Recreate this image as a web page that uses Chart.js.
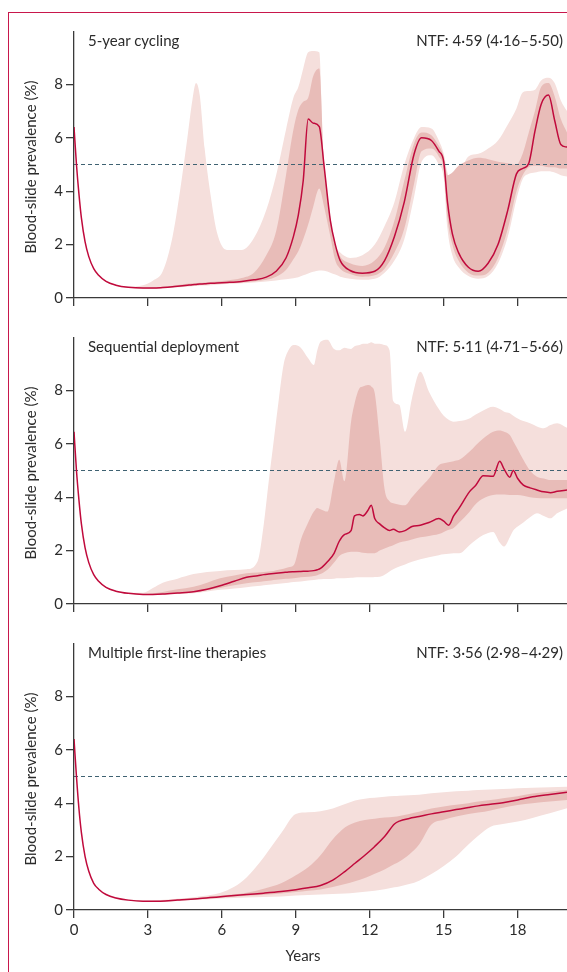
<!DOCTYPE html>
<html><head><meta charset="utf-8">
<script src="https://cdn.jsdelivr.net/npm/chart.js@4.4.1/dist/chart.umd.min.js"></script>
<style>
html,body{margin:0;padding:0;background:#fff;}
body{width:567px;height:972px;position:relative;overflow:hidden;font-family:Lato,"Open Sans",sans-serif;color:#2b2b2b;}
#frame{position:absolute;left:8px;top:12px;width:559px;height:960px;border-top:1.5px solid #c8174c;border-left:1.5px solid #c8174c;box-sizing:border-box;}
.cv{position:absolute;left:0;}
.ttl{position:absolute;font-size:15px;line-height:15px;white-space:nowrap;color:#2b2b2b;}
.ntf{position:absolute;font-size:15px;line-height:15px;white-space:nowrap;right:4px;color:#2b2b2b;}
.ylab{position:absolute;font-size:15px;line-height:15px;white-space:nowrap;transform:translate(-50%,-50%) rotate(-90deg);left:30px;color:#2b2b2b;}
#years{position:absolute;font-size:15px;line-height:15px;left:303px;top:948px;transform:translateX(-50%);color:#2b2b2b;}
</style></head>
<body>
<div id="frame"></div>
<canvas id="c1" class="cv" width="567" height="277" style="top:31px"></canvas>
<canvas id="c2" class="cv" width="567" height="277" style="top:337px"></canvas>
<canvas id="c3" class="cv" width="567" height="317" style="top:643px"></canvas>
<div class="ttl" style="left:88px;top:33px">5-year cycling</div>
<div class="ntf" style="top:33px">NTF: 4·59 (4·16–5·50)</div>
<div class="ttl" style="left:88px;top:339px">Sequential deployment</div>
<div class="ntf" style="top:339px">NTF: 5·11 (4·71–5·66)</div>
<div class="ttl" style="left:88px;top:645px">Multiple first-line therapies</div>
<div class="ntf" style="top:645px">NTF: 3·56 (2·98–4·29)</div>
<div class="ylab" style="top:167px">Blood-slide prevalence (%)</div>
<div class="ylab" style="top:473px">Blood-slide prevalence (%)</div>
<div class="ylab" style="top:779px">Blood-slide prevalence (%)</div>
<div id="years">Years</div>
<script>
// ---- shared axis definitions ----
const xTicks = [0, 3, 6, 9, 12, 15, 18];
const yTicks = [0, 2, 4, 6, 8];
const threshold = 5;

// ---- Panel 1: 5-year cycling ----
const years1 = [0,0.1,0.2,0.3,0.45,0.6,0.8,1.0,1.3,1.7,2.2,2.8,3.2,3.6,4.0,4.3,4.6,4.8,4.95,5.1,5.3,5.55,5.8,6.2,6.8,7.3,7.8,8.2,8.6,8.9,9.1,9.3,9.5,9.7,9.95,10.15,10.4,10.6,10.8,11.2,11.7,12.2,12.6,13.0,13.4,13.8,14.1,14.5,14.8,15.0,15.15,15.35,15.6,16.0,16.4,16.8,17.2,17.6,17.95,18.2,18.45,18.7,18.95,19.25,19.5,19.75,20];
const median1 = [6.4,5.0,3.9,3.0,2.1,1.55,1.1,0.85,0.62,0.48,0.4,0.37,0.37,0.39,0.42,0.45,0.48,0.5,0.51,0.52,0.53,0.55,0.56,0.58,0.62,0.68,0.78,1.0,1.5,2.3,3.1,4.4,6.7,6.55,6.42,4.9,2.9,2.0,1.4,1.03,0.93,1.0,1.4,2.3,3.6,5.4,6.0,5.9,5.5,5.1,3.6,2.4,1.7,1.15,1.0,1.3,2.0,3.3,4.65,4.85,5.05,6.25,7.25,7.6,6.65,5.75,5.65];
const outerHi1 = [6.4,5.0,3.9,3.0,2.1,1.55,1.1,0.86,0.64,0.5,0.42,0.48,0.65,1.0,2.3,4.0,6.0,7.4,8.05,7.6,5.6,3.8,2.45,1.8,1.8,2.25,3.3,4.6,6.3,7.5,7.9,8.6,9.2,9.25,9.2,4.2,2.5,1.95,1.7,1.5,1.6,2.0,2.7,3.6,5.0,6.0,6.4,6.35,5.9,5.4,4.7,4.35,4.6,5.3,5.4,5.6,5.9,6.5,7.1,7.7,7.75,7.8,8.15,8.25,8.05,7.4,7.0];
const innerHi1 = [6.4,5.0,3.9,3.0,2.1,1.55,1.1,0.85,0.62,0.48,0.4,0.38,0.39,0.42,0.46,0.5,0.53,0.55,0.56,0.57,0.58,0.6,0.62,0.66,0.75,0.95,1.6,2.5,4.6,6.3,7.05,7.35,7.5,8.3,8.6,5.1,3.0,2.0,1.55,1.3,1.2,1.4,1.9,2.9,4.4,5.8,6.2,6.1,5.7,5.3,4.6,4.7,4.95,5.15,5.25,5.2,5.1,5.05,5.0,5.4,6.2,7.0,7.9,8.05,7.55,6.7,6.2];
const innerLo1 = [6.4,5.0,3.9,3.0,2.1,1.55,1.1,0.85,0.62,0.47,0.39,0.36,0.36,0.37,0.4,0.42,0.45,0.47,0.48,0.49,0.5,0.52,0.53,0.55,0.58,0.62,0.68,0.8,1.05,1.45,1.75,2.2,2.75,3.4,4.1,3.4,2.3,1.4,1.1,0.9,0.8,0.85,1.1,1.7,2.6,4.3,5.5,5.6,5.3,4.8,3.0,2.0,1.4,0.95,0.84,0.95,1.5,2.6,4.0,4.6,4.9,4.95,4.95,4.9,4.9,4.85,4.85];
const outerLo1 = [6.4,5.0,3.9,3.0,2.1,1.55,1.1,0.84,0.6,0.46,0.38,0.35,0.35,0.36,0.38,0.4,0.42,0.44,0.45,0.46,0.47,0.48,0.5,0.52,0.55,0.58,0.62,0.66,0.7,0.74,0.78,0.85,0.92,0.98,1.03,1.02,0.95,0.88,0.8,0.72,0.68,0.72,0.95,1.4,2.2,3.8,5.1,5.35,5.0,4.5,2.6,1.6,1.15,0.82,0.72,0.82,1.3,2.3,3.7,4.45,4.65,4.7,4.75,4.75,4.7,4.6,4.55];

// ---- Panel 2: Sequential deployment ----
const years2 = [0,0.1,0.2,0.3,0.45,0.6,0.8,1.0,1.3,1.7,2.2,2.8,3.2,3.6,4.2,4.85,5.4,5.93,6.5,7.0,7.45,7.7,7.9,8.1,8.3,8.5,8.7,8.92,9.2,9.5,9.73,9.87,10.0,10.28,10.55,10.76,10.97,11.24,11.38,11.58,11.72,11.92,12.06,12.2,12.4,12.6,12.8,12.95,13.2,13.43,13.71,14.05,14.4,14.8,15.0,15.2,15.4,15.63,16.04,16.3,16.6,17.0,17.27,17.45,17.68,17.82,18.0,18.23,18.5,18.78,19.06,19.33,19.6,20];
const median2 = [6.45,5.0,3.9,3.0,2.1,1.55,1.1,0.85,0.62,0.48,0.4,0.36,0.36,0.37,0.41,0.46,0.55,0.68,0.85,1.0,1.06,1.1,1.12,1.14,1.16,1.18,1.2,1.21,1.22,1.23,1.25,1.28,1.33,1.58,1.9,2.35,2.6,2.75,3.3,3.35,3.3,3.5,3.7,3.2,3.0,2.85,2.75,2.8,2.7,2.75,2.9,2.95,3.05,3.2,3.1,2.95,3.3,3.6,4.2,4.45,4.8,4.78,5.35,5.05,4.75,5.0,4.7,4.45,4.35,4.27,4.2,4.17,4.22,4.27];
const outerHi2 = [6.45,5.0,3.9,3.0,2.1,1.55,1.1,0.86,0.64,0.5,0.42,0.42,0.6,0.8,0.95,1.12,1.2,1.24,1.27,1.3,1.6,3.0,4.6,6.1,7.6,8.95,9.5,9.7,9.6,9.2,8.95,9.5,9.82,9.9,9.55,9.5,9.6,9.55,9.65,9.7,9.75,9.75,9.8,9.75,9.75,9.7,9.5,7.6,7.45,6.45,7.7,8.7,7.95,7.3,7.05,6.9,6.83,6.85,6.95,7.1,7.25,7.39,7.3,7.2,7.14,7.05,6.95,6.85,6.77,6.65,6.58,6.7,6.77,6.6];
const innerHi2 = [6.45,5.0,3.9,3.0,2.1,1.55,1.1,0.85,0.62,0.48,0.4,0.38,0.4,0.45,0.55,0.65,0.8,0.96,1.07,1.15,1.18,1.2,1.22,1.24,1.28,1.32,1.38,1.46,2.4,3.05,3.46,3.6,3.55,3.46,4.6,5.4,4.6,6.83,7.5,8.08,8.15,8.2,8.15,7.9,6.2,4.3,3.85,3.77,3.72,3.7,4.0,4.35,4.7,5.2,5.27,5.31,5.35,5.4,5.7,5.95,6.2,6.45,6.5,6.45,6.33,6.1,5.8,5.4,5.0,4.77,4.7,4.64,4.64,4.64];
const innerLo2 = [6.45,5.0,3.9,3.0,2.1,1.55,1.1,0.85,0.62,0.47,0.39,0.35,0.35,0.36,0.39,0.45,0.52,0.6,0.7,0.78,0.82,0.85,0.87,0.9,0.92,0.94,0.95,0.96,1.0,1.02,1.05,1.08,1.12,1.28,1.55,1.8,1.9,1.96,1.96,1.95,1.92,1.9,1.9,1.9,2.0,2.08,2.15,2.2,2.3,2.35,2.42,2.5,2.55,2.62,2.7,2.78,2.85,3.05,3.45,3.75,3.95,4.08,4.1,4.1,4.08,4.08,4.08,4.05,4.0,3.97,3.96,3.96,3.96,3.96];
const outerLo2 = [6.45,5.0,3.9,3.0,2.1,1.55,1.1,0.84,0.6,0.46,0.38,0.34,0.34,0.35,0.37,0.4,0.47,0.53,0.58,0.63,0.67,0.7,0.72,0.74,0.76,0.78,0.8,0.82,0.84,0.88,0.9,0.92,0.93,0.94,0.95,0.96,0.96,0.98,0.99,1.0,1.0,1.0,1.0,1.01,1.02,1.1,1.22,1.3,1.4,1.48,1.58,1.68,1.75,1.83,1.86,1.88,1.9,1.9,2.2,2.4,2.58,2.7,2.3,2.15,2.5,2.75,2.9,3.05,3.25,3.4,3.3,3.21,3.4,3.58];

// ---- Panel 3: Multiple first-line therapies ----
const years3 = [0,0.1,0.2,0.3,0.45,0.6,0.8,1.0,1.3,1.7,2.2,2.8,3.5,4.2,5.0,5.95,6.5,7.0,7.7,8.4,9.0,9.5,10.0,10.5,11.0,11.4,11.8,12.2,12.6,13.0,13.2,13.6,14.0,14.5,15.0,15.5,16.0,16.4,16.9,17.4,18.0,18.6,19.3,20];
const median3 = [6.4,5.0,3.8,2.9,2.0,1.45,1.0,0.78,0.58,0.45,0.37,0.33,0.33,0.37,0.42,0.5,0.54,0.58,0.63,0.69,0.76,0.83,0.92,1.12,1.45,1.75,2.05,2.38,2.75,3.22,3.33,3.43,3.5,3.6,3.68,3.76,3.84,3.9,3.96,4.02,4.12,4.24,4.33,4.41];
const outerHi3 = [6.4,5.0,3.8,2.9,2.0,1.45,1.0,0.79,0.6,0.47,0.39,0.36,0.37,0.42,0.5,0.65,0.87,1.22,1.98,2.87,3.6,3.66,3.7,3.8,3.97,4.1,4.17,4.2,4.24,4.27,4.28,4.3,4.32,4.37,4.41,4.45,4.47,4.49,4.51,4.53,4.56,4.58,4.6,4.62];
const innerHi3 = [6.4,5.0,3.8,2.9,2.0,1.45,1.0,0.78,0.58,0.45,0.37,0.34,0.35,0.39,0.45,0.54,0.59,0.65,0.8,1.0,1.3,1.6,2.05,2.65,3.1,3.28,3.37,3.42,3.46,3.49,3.52,3.6,3.68,3.8,3.88,3.94,4.0,4.06,4.12,4.19,4.26,4.36,4.43,4.49];
const innerLo3 = [6.4,5.0,3.8,2.9,2.0,1.45,1.0,0.78,0.58,0.45,0.37,0.32,0.32,0.35,0.4,0.47,0.5,0.53,0.57,0.62,0.67,0.72,0.77,0.86,0.97,1.08,1.2,1.36,1.52,1.72,1.82,2.08,2.45,3.2,3.38,3.5,3.6,3.65,3.73,3.83,3.93,4.0,4.06,4.12];
const outerLo3 = [6.4,5.0,3.8,2.9,2.0,1.45,1.0,0.77,0.57,0.44,0.36,0.31,0.31,0.34,0.38,0.43,0.45,0.47,0.49,0.51,0.54,0.56,0.58,0.6,0.62,0.65,0.68,0.72,0.78,0.85,0.88,0.97,1.1,1.35,1.65,2.0,2.45,2.78,3.12,3.22,3.31,3.45,3.62,3.81];

// ---- styling ----
const LIGHT = '#f5dfdc';
const DARK = '#e8bcb8';
const LINE = '#c00a3c';
const DASH = '#3f6272';
const AXIS = '#3a3a3a';
const TXT = '#2b2b2b';

function pts(xs, ys) { return xs.map((x, i) => ({ x: x, y: ys[i] })); }

function makeChart(id, xs, med, oh, ih, il, ol, showLabels) {
  const band = (data, color, fill, order) => ({
    data: pts(xs, data), borderWidth: 0, pointRadius: 0, backgroundColor: color,
    fill: fill, order: order, cubicInterpolationMode: 'monotone'
  });
  new Chart(document.getElementById(id), {
    type: 'line',
    data: {
      datasets: [
        band(oh, LIGHT, '+1', 5),
        band(ol, LIGHT, false, 5),
        band(ih, DARK, '+1', 3),
        band(il, DARK, false, 3),
        { data: [{ x: 0, y: threshold }, { x: 20, y: threshold }], borderColor: DASH, borderWidth: 1.1,
          borderDash: [4, 3], pointRadius: 0, fill: false, order: 1 },
        { data: pts(xs, med), borderColor: LINE, borderWidth: 1.5, pointRadius: 0, fill: false,
          order: 0, cubicInterpolationMode: 'monotone' }
      ]
    },
    options: {
      responsive: false, animation: false, devicePixelRatio: 1,
      layout: { padding: { left: 0, right: 0, top: 0, bottom: 0 } },
      plugins: { legend: { display: false }, tooltip: { enabled: false } },
      scales: {
        x: {
          type: 'linear', min: 0, max: 20,
          afterBuildTicks: s => { s.ticks = xTicks.map(v => ({ value: v })); },
          afterFit: s => { s.height = showLabels ? 50 : 10; s.paddingLeft = 0; s.paddingRight = 0; },
          ticks: { display: showLabels, autoSkip: false, maxRotation: 0, padding: 3,
                   color: TXT, font: { family: 'Lato', size: 15 } },
          grid: { drawOnChartArea: false, drawTicks: true, tickLength: 8, color: AXIS, lineWidth: 1.3 },
          border: { display: true, color: AXIS, width: 1.3 }
        },
        y: {
          min: 0, max: 10,
          afterBuildTicks: s => { s.ticks = yTicks.map(v => ({ value: v })); },
          afterFit: s => { s.width = 74; s.paddingTop = 0; s.paddingBottom = 0; },
          ticks: { padding: 3, color: TXT, font: { family: 'Lato', size: 15 } },
          grid: { drawOnChartArea: false, drawTicks: true, tickLength: 8, color: AXIS, lineWidth: 1.3 },
          border: { display: true, color: AXIS, width: 1.3 }
        }
      }
    }
  });
}

makeChart('c1', years1, median1, outerHi1, innerHi1, innerLo1, outerLo1, false);
makeChart('c2', years2, median2, outerHi2, innerHi2, innerLo2, outerLo2, false);
makeChart('c3', years3, median3, outerHi3, innerHi3, innerLo3, outerLo3, true);
</script>
</body></html>
